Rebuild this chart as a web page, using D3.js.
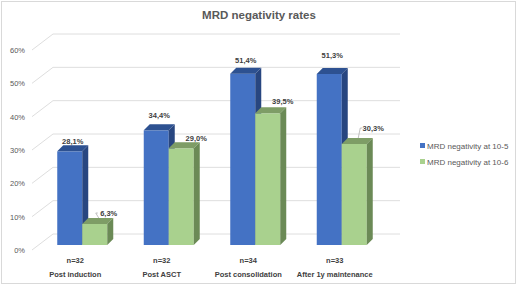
<!DOCTYPE html>
<html>
<head>
<meta charset="utf-8">
<script src="https://cdn.jsdelivr.net/npm/d3@7"></script>
<style>
body{margin:0;background:#fff;}
svg text{font-family:"Liberation Sans",Arial,sans-serif;}
</style>
</head>
<body>
<svg id="chart" width="520" height="287"></svg>
<script>
// data
var categories = ["Post induction", "Post ASCT", "Post consolidation", "After 1y maintenance"];
var counts = ["n=32", "n=32", "n=34", "n=33"];
var seriesNames = ["MRD negativity at 10-5", "MRD negativity at 10-6"];
var mrd5 = [0.281, 0.344, 0.514, 0.513];
var mrd6 = [0.063, 0.290, 0.395, 0.303];
var yTicks = [0, 0.1, 0.2, 0.3, 0.4, 0.5, 0.6];

// label nudges (dx,dy) the way they were dragged in the original
var nudge5 = [[0, -10], [0, -15], [0, -14], [0, -19]];
var nudge6 = [[11, -11], [12, -10], [12, -12], [16, -16]];

var svg = d3.select("#chart");
var fmt = function(v){ return d3.format(".1%")(v).replace(".", ","); };

// outer border
svg.append("rect").attr("x",1.5).attr("y",1.5).attr("width",514).attr("height",282)
        .attr("fill","#fff").attr("stroke","#d9d9d9");

svg.append("text").attr("x",259).attr("y",19).attr("text-anchor","middle")
        .attr("font-size",11.5).attr("font-weight","bold").attr("fill","#595959")
        .text("MRD negativity rates");

var x = d3.scaleBand().domain(categories).range([32, 378]);
var y = d3.scaleLinear().domain([0, 0.6]).range([245, 45]);
var inner = d3.scaleBand().domain(seriesNames).range([0, 50]);

// wall geometry
var wallX0 = 32, wallX1 = 53, wallRight = 400;
var wallFront = 5, wallBack = -11;

var grid = svg.append("g");
yTicks.forEach(function(t){
        grid.append("polyline")
                .attr("points", [[wallX0, y(t)+wallFront],[wallX1, y(t)+wallBack],[wallRight, y(t)+wallBack]].join(" "))
                .attr("fill","none").attr("stroke","#dedede").attr("stroke-width",1);
        grid.append("text").attr("x",25).attr("y",y(t)+wallFront+3)
                .attr("text-anchor","end").attr("font-size",7.5).attr("fill","#595959")
                .text(d3.format(".0%")(t));
});

// 3d bars
var dx = 6, dy = -6;
var colors = [
        {front:"#4472c4", top:"#2d5191", side:"#284680"},
        {front:"#a9d18e", top:"#7e9d66", side:"#6b8a56"}
];
var series = [mrd5, mrd6];
var bars = svg.append("g");
categories.forEach(function(c, i){
        series.forEach(function(vals, s){
                var x0 = x(c) + x.bandwidth()/2 - 18 + inner(seriesNames[s]);
                var x1 = x0 + inner.bandwidth();
                var top = y(vals[i]), bot = y(0);
                var g = bars.append("g");
                g.append("rect").attr("x",x0).attr("y",top).attr("width",x1-x0).attr("height",bot-top)
                        .attr("fill",colors[s].front);
                g.append("polygon").attr("points",[[x0,top],[x0+dx,top+dy],[x1+dx,top+dy],[x1,top]].join(" "))
                        .attr("fill",colors[s].top);
                g.append("polygon").attr("points",[[x1,top],[x1+dx,top+dy],[x1+dx,bot+dy],[x1,bot]].join(" "))
                        .attr("fill",colors[s].side);
        });
});

// data labels
var labels = svg.append("g");
categories.forEach(function(c, i){
        series.forEach(function(vals, s){
                var nd = s == 0 ? nudge5[i] : nudge6[i];
                var cx = x(c) + x.bandwidth()/2 - 18 + inner(seriesNames[s]) + inner.bandwidth()/2 + dx/2;
                var lx = cx + nd[0], ly = y(vals[i]) + nd[1];
                labels.append("text").attr("x",lx).attr("y",ly+3)
                        .attr("text-anchor","middle").attr("font-size",7.5).attr("font-weight","bold")
                        .attr("fill","#404040").text(fmt(vals[i]));
                if(s == 1 && (i == 0 || i == 3)){
                        labels.append("polyline")
                                .attr("points",[[lx-11, ly],[lx-13, ly],[cx+1, y(vals[i])+dy]].join(" "))
                                .attr("fill","none").attr("stroke","#a6a6a6").attr("stroke-width",0.7);
                }
        });
});

// category labels
var cats = svg.append("g");
categories.forEach(function(c, i){
        var cx = x(c) + x.bandwidth()/2;
        cats.append("text").attr("x",cx).attr("y",263).attr("text-anchor","middle")
                .attr("font-size",7.5).attr("font-weight","bold").attr("fill","#404040").text(counts[i]);
        cats.append("text").attr("x",cx).attr("y",277).attr("text-anchor","middle")
                .attr("font-size",7.5).attr("font-weight","bold").attr("fill","#404040").text(c);
});

// legend
var legend = svg.append("g");
seriesNames.forEach(function(n, s){
        var ly = 146 + s*16;
        legend.append("rect").attr("x",420).attr("y",ly-3).attr("width",5).attr("height",5)
                .attr("fill",colors[s].front);
        legend.append("text").attr("x",427).attr("y",ly+3).attr("font-size",8)
                .attr("fill","#595959").text(n);
});
</script>
</body>
</html>
